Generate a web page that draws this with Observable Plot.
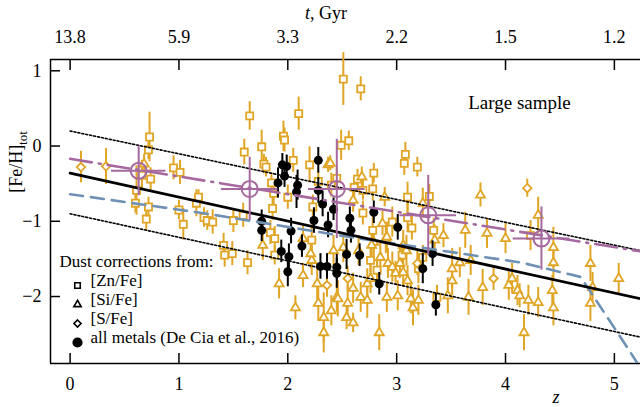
<!DOCTYPE html>
<html><head><meta charset="utf-8">
<script src="https://cdn.jsdelivr.net/npm/d3@7"></script>
<script src="https://cdn.jsdelivr.net/npm/@observablehq/plot@0.6"></script>
<style>
html,body{margin:0;padding:0;background:#fff;}
#chart{width:640px;height:407px;}
#chart svg, #chart svg text { font-family: "Liberation Serif", "Times New Roman", Times, "DejaVu Serif", serif !important; }
</style></head><body><div id="chart"></div>
<script>
// ---- data ----
const zTicks = [0, 1, 2, 3, 4, 5];
const fehTicks = [-2, -1, 0, 1];
const tLabels = ["13.8", "5.9", "3.3", "2.2", "1.5", "1.2"];

// [z, [Fe/H]tot, error]
const znFe = [[0.73,0.12,0.33],[0.72,-0.05,0.13],[0.66,-0.39,0.2],[0.74,-0.44,0.15],[0.61,-0.59,0.33],[0.95,-0.29,0.16],[1.01,-0.35,0.16],[0.72,-0.81,0.13],[1.00,-0.85,0.13],[1.16,-0.76,0.18],[1.18,-0.68,0.1],[0.70,-0.97,0.16],[1.04,-1.04,0.21],[1.23,-0.95,0.13],[1.26,-0.99,0.13],[1.65,0.40,0.19],[2.10,0.43,0.22],[2.51,0.89,0.35],[2.67,0.76,0.16],[1.60,-0.08,0.17],[1.76,-0.01,0.22],[1.96,0.13,0.2],[1.97,0.08,0.16],[1.78,-0.24,0.13],[1.80,-0.28,0.13],[2.05,-0.19,0.16],[2.20,-0.25,0.24],[2.49,0.01,0.2],[2.56,0.07,0.13],[2.45,-0.43,0.16],[2.28,-0.47,0.13],[2.64,-0.44,0.13],[2.79,-0.36,0.13],[3.08,-0.11,0.16],[3.07,-0.23,0.16],[3.19,-0.28,0.13],[1.85,-0.49,0.13],[1.87,-0.63,0.16],[2.78,-0.57,0.16],[3.10,-0.68,0.2],[2.61,-0.55,0.13],[2.69,-0.59,0.13],[2.00,-0.68,0.16],[2.40,-0.52,0.16],[2.78,-1.12,0.2],[3.14,-1.09,0.16],[2.22,-1.25,0.2],[1.88,-1.45,0.13],[1.86,-0.83,0.16],[2.23,-0.81,0.16],[2.69,-0.89,0.16],[2.96,-1.01,0.2],[3.05,-1.45,0.16],[1.31,-1.01,0.16],[1.41,-1.32,0.16],[1.42,-1.45,0.16],[1.63,-1.55,0.16],[1.50,-0.99,0.16],[1.59,-0.92,0.16],[1.84,-1.15,0.16],[1.88,-1.23,0.16],[2.76,-1.52,0.16],[2.82,-1.65,0.16],[3.10,-0.95,0.2],[3.34,-1.12,0.16],[3.20,-1.63,0.2],[3.24,-1.48,0.16],[3.37,-2.01,0.16],[4.23,-1.19,0.2],[3.30,-0.67,0.16],[1.49,-1.43,0.16],[0.60,-0.76,0.13]];

const siFe = [[0.68,-0.24,0.13],[2.37,-0.25,0.1],[2.39,-0.23,0.1],[2.68,-0.41,0.13],[2.89,-0.68,0.13],[2.79,-1.28,0.2],[3.09,-1.39,0.2],[2.14,-1.23,0.16],[2.22,-1.52,0.2],[2.60,-0.72,0.16],[2.90,-1.23,0.2],[2.51,-1.35,0.2],[2.65,-1.39,0.2],[2.42,-1.39,0.2],[2.92,-1.56,0.2],[1.77,-1.32,0.2],[1.92,-1.83,0.2],[2.21,-1.43,0.2],[2.27,-1.83,0.27],[2.45,-2.01,0.2],[2.60,-1.89,0.2],[2.73,-1.83,0.2],[2.67,-2.01,0.2],[2.85,-1.48,0.2],[2.96,-1.61,0.2],[3.03,-1.56,0.2],[3.10,-1.79,0.2],[2.87,-1.03,0.16],[2.77,-1.32,0.2],[2.91,-1.21,0.2],[3.06,-1.32,0.2],[2.55,-2.09,0.24],[2.73,-2.05,0.24],[2.91,-2.01,0.2],[3.01,-1.99,0.2],[3.13,-2.03,0.2],[2.07,-2.15,0.16],[2.14,-1.72,0.16],[2.28,-2.09,0.24],[2.33,-2.28,0.33],[2.33,-2.48,0.27],[2.40,-2.19,0.2],[2.46,-2.03,0.24],[2.54,-2.28,0.16],[2.60,-2.35,0.13],[2.84,-2.48,0.24],[3.15,-2.15,0.24],[2.99,-1.69,0.16],[2.76,-1.76,0.2],[3.24,-0.76,0.2],[3.43,-1.19,0.16],[3.35,-1.25,0.2],[3.06,-1.68,0.2],[3.20,-2.05,0.2],[3.47,-1.99,0.24],[3.51,-1.63,0.27],[3.58,-1.55,0.2],[3.68,-1.52,0.2],[3.63,-1.12,0.24],[3.83,-1.16,0.2],[4.00,-1.23,0.2],[3.79,-1.88,0.24],[3.66,-2.01,0.24],[4.03,-1.85,0.2],[4.06,-1.76,0.2],[4.11,-1.92,0.2],[4.13,-1.99,0.16],[4.21,-2.05,0.2],[4.30,-2.08,0.2],[4.17,-2.48,0.24],[4.44,-1.35,0.27],[4.44,-1.55,0.24],[4.44,-2.15,0.24],[4.43,-1.92,0.2],[4.30,-0.92,0.24],[4.78,-1.56,0.24],[4.80,-1.88,0.2],[4.78,-2.09,0.24],[5.04,-1.76,0.2],[3.51,-1.79,0.2],[3.77,-0.65,0.16]];

const sFe = [[0.10,-0.28,0.21],[0.33,-0.27,0.24],[2.36,-1.85,0.16],[2.55,-1.76,0.16],[3.19,-1.56,0.16],[3.89,-1.76,0.16],[4.20,-0.56,0.12]];

const allMetals = [[1.91,-0.49,0.2],[1.95,-0.25,0.15],[1.99,-0.27,0.15],[1.97,-0.40,0.15],[2.09,-0.52,0.2],[2.08,-0.61,0.22],[2.28,-0.19,0.17],[2.28,-0.59,0.17],[2.32,-0.77,0.17],[2.42,-0.84,0.15],[2.24,-0.99,0.17],[2.37,-1.05,0.17],[2.57,-0.96,0.15],[2.58,-1.12,0.17],[2.03,-1.13,0.17],[2.13,-1.33,0.15],[1.94,-1.40,0.15],[2.01,-1.47,0.17],[2.00,-1.67,0.2],[1.76,-1.00,0.15],[1.76,-1.12,0.15],[2.54,-1.44,0.2],[2.66,-1.45,0.15],[2.30,-1.60,0.17],[2.36,-1.60,0.17],[2.45,-1.61,0.17],[2.45,-1.69,0.2],[2.79,-0.88,0.15],[3.01,-1.08,0.17],[2.84,-1.83,0.15],[3.33,-1.43,0.17],[3.24,-1.63,0.2],[3.36,-2.11,0.15]];

// binned means: [z, [Fe/H], zErr, fehErr]
const binMeans = [[0.63,-0.33,0.25,0.33],[1.65,-0.57,0.26,0.42],[2.45,-0.57,0.26,0.66],[3.29,-0.92,0.26,0.53],[4.33,-1.23,0.26,0.42]];

// lines: [z, [Fe/H]]
const fitLine = [[0,-0.36],[5.24,-2.03]];
const fitUpper = [[0,0.20],[5.24,-1.39]];
const fitLower = [[0,-0.90],[5.24,-2.54]];
const binTrend = [[0,-0.17],[5.24,-1.40]];
const modelCurve = [[0,-0.64],[1.26,-0.90],[2.57,-1.21],[3.09,-1.32],[4.15,-1.55],[4.69,-1.74],[5.12,-2.68],[5.24,-2.95]];

const legendRows = ["[Zn/Fe]", "[Si/Fe]", "[S/Fe]", "all metals (De Cia et al., 2016)"];
const legendSymbols = ["square2", "triangle2", "diamond2", "circle"];

// ---- styling ----
const gold = "#e1a526", purple = "#a5699f", blue = "#6f91b4";
const font = '"Liberation Serif", "Times New Roman", Times, "DejaVu Serif", serif';
const toObj = a => a.map(([z, y, e]) => ({z, y, e}));
const zn = toObj(znFe), si = toObj(siFe), s = toObj(sFe), am = toObj(allMetals);
const bins = binMeans.map(([z, y, ez, ey]) => ({z, y, ez, ey}));
const line = a => a.map(([z, y]) => ({z, y}));

const errBars = (data, stroke, w) => Plot.ruleX(data, {x: "z", y1: d => d.y - d.e, y2: d => d.y + d.e, stroke, strokeWidth: w});

const marks = [
  // frame lines
  Plot.ruleY([-2.89], {stroke: "black", strokeWidth: 1.5}),
  Plot.ruleY([1.15], {stroke: "black", strokeWidth: 1.5}),
  Plot.ruleX([-0.18], {stroke: "black", strokeWidth: 1.5}),
  // axes
  Plot.axisX(zTicks, {anchor: "bottom", tickSize: -10, tickPadding: 24, label: null, fontSize: 18, strokeWidth: 1.5}),
  Plot.axisX(zTicks, {anchor: "top", tickSize: -10, tickPadding: 27, label: null, fontSize: 18, strokeWidth: 1.5,
    tickFormat: d => tLabels[zTicks.indexOf(d)]}),
  Plot.axisY(fehTicks, {anchor: "left", tickSize: -10, tickPadding: 19, label: null, fontSize: 18, strokeWidth: 1.5,
    tickFormat: d => d < 0 ? "\u2212" + Math.abs(d) : String(d)}),
  // yellow points
  errBars(zn, gold, 2), errBars(si, gold, 2), errBars(s, gold, 2),
  Plot.dot(zn, {x: "z", y: "y", symbol: "square2", r: 4.5, stroke: gold, strokeWidth: 1.8, fill: "white"}),
  Plot.dot(si, {x: "z", y: "y", symbol: "triangle2", r: 4.3, stroke: gold, strokeWidth: 1.8, fill: "white"}),
  Plot.dot(s, {x: "z", y: "y", symbol: "diamond2", r: 3.8, stroke: gold, strokeWidth: 1.8, fill: "white"}),
  // black points
  errBars(am, "black", 2),
  Plot.dot(am, {x: "z", y: "y", r: 4.5, fill: "black"}),
  // lines
  Plot.line(line(fitUpper), {x: "z", y: "y", stroke: "black", strokeWidth: 1.6, strokeDasharray: "2,2", clip: true}),
  Plot.line(line(fitLower), {x: "z", y: "y", stroke: "black", strokeWidth: 1.6, strokeDasharray: "2,2", clip: true}),
  Plot.line(line(modelCurve), {x: "z", y: "y", stroke: blue, strokeWidth: 2.6, strokeDasharray: "13,8", clip: true}),
  Plot.line(line(binTrend), {x: "z", y: "y", stroke: purple, strokeWidth: 2.6, strokeDasharray: "22,7,2,7", clip: true}),
  Plot.line(line(fitLine), {x: "z", y: "y", stroke: "black", strokeWidth: 2.8, clip: true}),
  // binned means
  Plot.ruleY(bins, {y: "y", x1: d => d.z - d.ez, x2: d => d.z + d.ez, stroke: purple, strokeWidth: 2}),
  Plot.ruleX(bins, {x: "z", y1: d => d.y - d.ey, y2: d => d.y + d.ey, stroke: purple, strokeWidth: 2}),
  Plot.dot(bins, {x: "z", y: "y", r: 8, stroke: purple, strokeWidth: 2, fill: "none"}),
  // annotation
  Plot.text(["Large sample"], {frameAnchor: "top-left", dx: 469, dy: 36, textAnchor: "middle", fontSize: 19}),
  // legend
  Plot.text(["Dust corrections from:"], {frameAnchor: "bottom-left", dx: 9, dy: -97, textAnchor: "start", fontSize: 17}),
  ...legendRows.map((label, i) => Plot.text([label], {frameAnchor: "bottom-left", dx: 40, dy: -78 + i * 19, textAnchor: "start", fontSize: 17})),
  ...legendSymbols.map((sym, i) => Plot.dot([sym], {frameAnchor: "bottom-left", dx: 27, dy: -78 + i * 19, symbol: d => d,
    r: sym === "circle" ? 4.3 : (sym === "diamond2" ? 3.2 : 3.5),
    stroke: "black", strokeWidth: 1.6, fill: sym === "circle" ? "black" : "white"}))
];

const chart = Plot.plot({
  width: 640, height: 407,
  marginLeft: 50, marginRight: 0, marginTop: 59, marginBottom: 44,
  style: {fontFamily: font, fontSize: "18px", background: "white", color: "black", overflow: "visible"},
  x: {domain: [-0.18, 5.24]},
  y: {domain: [-2.89, 1.15]},
  symbol: {type: "identity"},
  marks
});

// axis titles with mixed styles
const svg = d3.select(chart);
const tt = svg.append("text").attr("x", 326).attr("y", 19).attr("text-anchor", "middle")
  .style("font-family", font).style("font-size", "18px").attr("fill", "black");
tt.append("tspan").style("font-style", "italic").text("t");
tt.append("tspan").text(", Gyr");

svg.append("text").attr("x", 556).attr("y", 403).attr("text-anchor", "middle")
  .style("font-family", font).style("font-size", "18px").style("font-style", "italic").attr("fill", "black").text("z");

const yl = svg.append("text").attr("transform", "translate(22,162) rotate(-90)").attr("text-anchor", "middle")
  .style("font-family", font).style("font-size", "18px").attr("fill", "black");
yl.append("tspan").text("[Fe/H]");
yl.append("tspan").attr("dy", 5).style("font-size", "13px").text("tot");

document.getElementById("chart").appendChild(chart);
</script>
</body></html>
